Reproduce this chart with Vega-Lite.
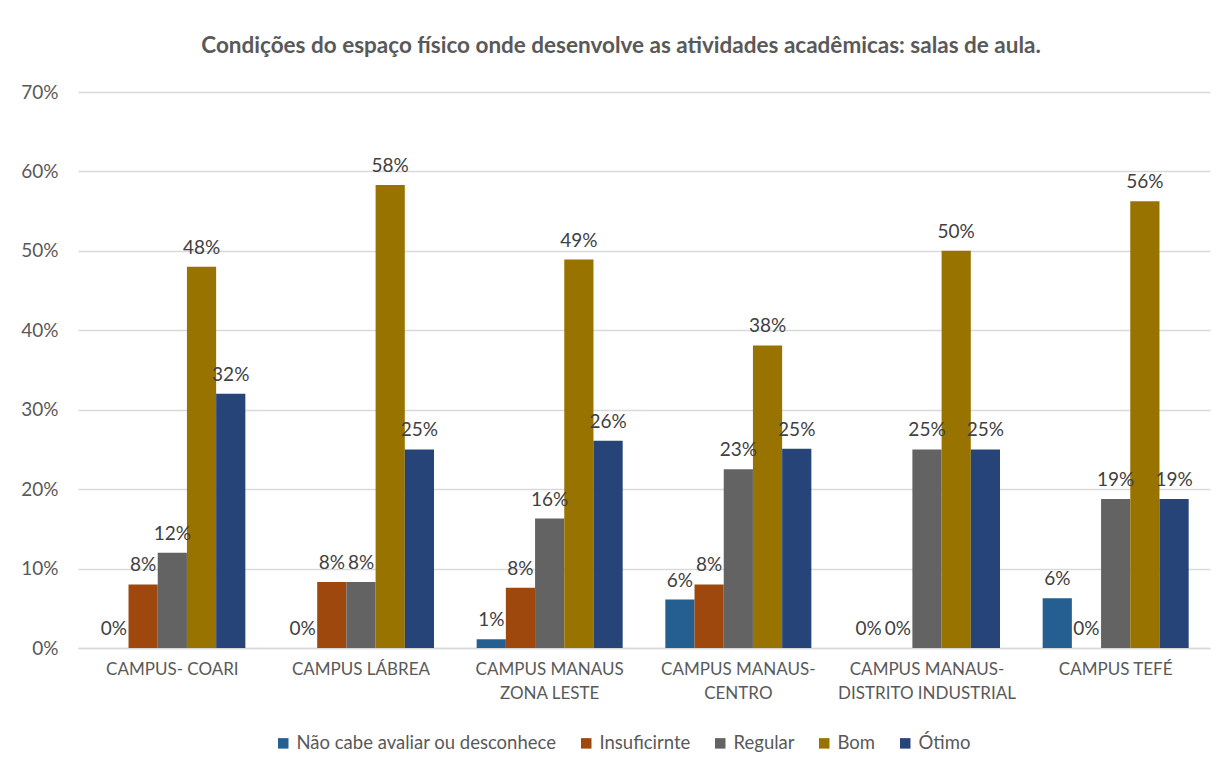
{
  "$schema": "https://vega.github.io/schema/vega-lite/v6.json",
  "width": 1132,
  "height": 556,
  "autosize": {"type": "none"},
  "padding": {"left": 78, "top": 92, "right": 18, "bottom": 125},
  "background": "white",
  "title": {
    "text": "Condições do espaço físico onde desenvolve as atividades acadêmicas: salas de aula.",
    "font": "Lato",
    "fontSize": 22.5,
    "fontWeight": "bold",
    "color": "#595959",
    "anchor": "middle",
    "dx": -23,
    "offset": 26
  },
  "data": {
    "values": [
      {"campus": "CAMPUS- COARI", "cat": "Não cabe avaliar ou desconhece", "v": 0},
      {"campus": "CAMPUS- COARI", "cat": "Insuficirnte", "v": 0.08},
      {"campus": "CAMPUS- COARI", "cat": "Regular", "v": 0.12},
      {"campus": "CAMPUS- COARI", "cat": "Bom", "v": 0.48},
      {"campus": "CAMPUS- COARI", "cat": "Ótimo", "v": 0.32},
      {"campus": "CAMPUS LÁBREA", "cat": "Não cabe avaliar ou desconhece", "v": 0},
      {"campus": "CAMPUS LÁBREA", "cat": "Insuficirnte", "v": 0.083},
      {"campus": "CAMPUS LÁBREA", "cat": "Regular", "v": 0.083},
      {"campus": "CAMPUS LÁBREA", "cat": "Bom", "v": 0.583},
      {"campus": "CAMPUS LÁBREA", "cat": "Ótimo", "v": 0.25},
      {"campus": "CAMPUS MANAUS ZONA LESTE", "cat": "Não cabe avaliar ou desconhece", "v": 0.011},
      {"campus": "CAMPUS MANAUS ZONA LESTE", "cat": "Insuficirnte", "v": 0.076},
      {"campus": "CAMPUS MANAUS ZONA LESTE", "cat": "Regular", "v": 0.163},
      {"campus": "CAMPUS MANAUS ZONA LESTE", "cat": "Bom", "v": 0.489},
      {"campus": "CAMPUS MANAUS ZONA LESTE", "cat": "Ótimo", "v": 0.261},
      {"campus": "CAMPUS MANAUS-CENTRO", "cat": "Não cabe avaliar ou desconhece", "v": 0.061},
      {"campus": "CAMPUS MANAUS-CENTRO", "cat": "Insuficirnte", "v": 0.08},
      {"campus": "CAMPUS MANAUS-CENTRO", "cat": "Regular", "v": 0.225},
      {"campus": "CAMPUS MANAUS-CENTRO", "cat": "Bom", "v": 0.381},
      {"campus": "CAMPUS MANAUS-CENTRO", "cat": "Ótimo", "v": 0.251},
      {"campus": "CAMPUS MANAUS-DISTRITO INDUSTRIAL", "cat": "Não cabe avaliar ou desconhece", "v": 0},
      {"campus": "CAMPUS MANAUS-DISTRITO INDUSTRIAL", "cat": "Insuficirnte", "v": 0},
      {"campus": "CAMPUS MANAUS-DISTRITO INDUSTRIAL", "cat": "Regular", "v": 0.25},
      {"campus": "CAMPUS MANAUS-DISTRITO INDUSTRIAL", "cat": "Bom", "v": 0.5},
      {"campus": "CAMPUS MANAUS-DISTRITO INDUSTRIAL", "cat": "Ótimo", "v": 0.25},
      {"campus": "CAMPUS TEFÉ", "cat": "Não cabe avaliar ou desconhece", "v": 0.0625},
      {"campus": "CAMPUS TEFÉ", "cat": "Insuficirnte", "v": 0},
      {"campus": "CAMPUS TEFÉ", "cat": "Regular", "v": 0.1875},
      {"campus": "CAMPUS TEFÉ", "cat": "Bom", "v": 0.5625},
      {"campus": "CAMPUS TEFÉ", "cat": "Ótimo", "v": 0.1875}
    ]
  },
  "encoding": {
    "x": {
      "field": "campus",
      "type": "nominal",
      "sort": null,
      "scale": {"paddingInner": 0.226, "paddingOuter": 0.113},
      "axis": {
        "title": null,
        "labelAngle": 0,
        "ticks": false,
        "domainColor": "#D9D9D9",
        "domainWidth": 1.5,
        "labelPadding": 13,
        "labelLineHeight": 24,
        "labelFont": "Lato",
        "labelFontSize": 17,
        "labelColor": "#595959",
        "labelLimit": 300,
        "labelExpr": "split(replace(replace(datum.label, 'MANAUS ', 'MANAUS|'), 'MANAUS-', 'MANAUS-|'), '|')"
      }
    },
    "xOffset": {
      "field": "cat",
      "type": "nominal",
      "sort": ["Não cabe avaliar ou desconhece", "Insuficirnte", "Regular", "Bom", "Ótimo"]
    },
    "y": {
      "field": "v",
      "type": "quantitative",
      "scale": {"domain": [0, 0.7], "nice": false},
      "axis": {
        "title": null,
        "values": [0, 0.1, 0.2, 0.3, 0.4, 0.5, 0.6, 0.7],
        "format": ".0%",
        "domain": false,
        "ticks": false,
        "gridColor": "#D9D9D9",
        "gridWidth": 1.5,
        "labelPadding": 20,
        "labelFont": "Lato",
        "labelFontSize": 19,
        "labelColor": "#595959"
      }
    }
  },
  "layer": [
    {
      "mark": {"type": "bar"},
      "encoding": {
        "color": {
          "field": "cat",
          "type": "nominal",
          "sort": ["Não cabe avaliar ou desconhece", "Insuficirnte", "Regular", "Bom", "Ótimo"],
          "scale": {
            "domain": ["Não cabe avaliar ou desconhece", "Insuficirnte", "Regular", "Bom", "Ótimo"],
            "range": ["#255E91", "#9E480E", "#636363", "#997300", "#264478"]
          },
          "legend": {
            "title": null,
            "orient": "none",
            "direction": "horizontal",
            "legendX": 196,
            "legendY": 642,
            "symbolType": "square",
            "symbolSize": 110,
            "symbolStrokeWidth": 0,
            "symbolOpacity": 1,
            "labelFont": "Lato",
            "labelFontSize": 18.5,
            "labelColor": "#595959",
            "labelOffset": 4,
            "columnPadding": 20,
            "labelLimit": 400
          }
        }
      }
    },
    {
      "mark": {"type": "text", "baseline": "bottom", "dy": -9, "font": "Lato", "fontSize": 19, "color": "#404040"},
      "encoding": {
        "text": {"field": "v", "type": "quantitative", "format": ".0%"}
      }
    }
  ],
  "config": {
    "view": {"stroke": null}
  }
}
